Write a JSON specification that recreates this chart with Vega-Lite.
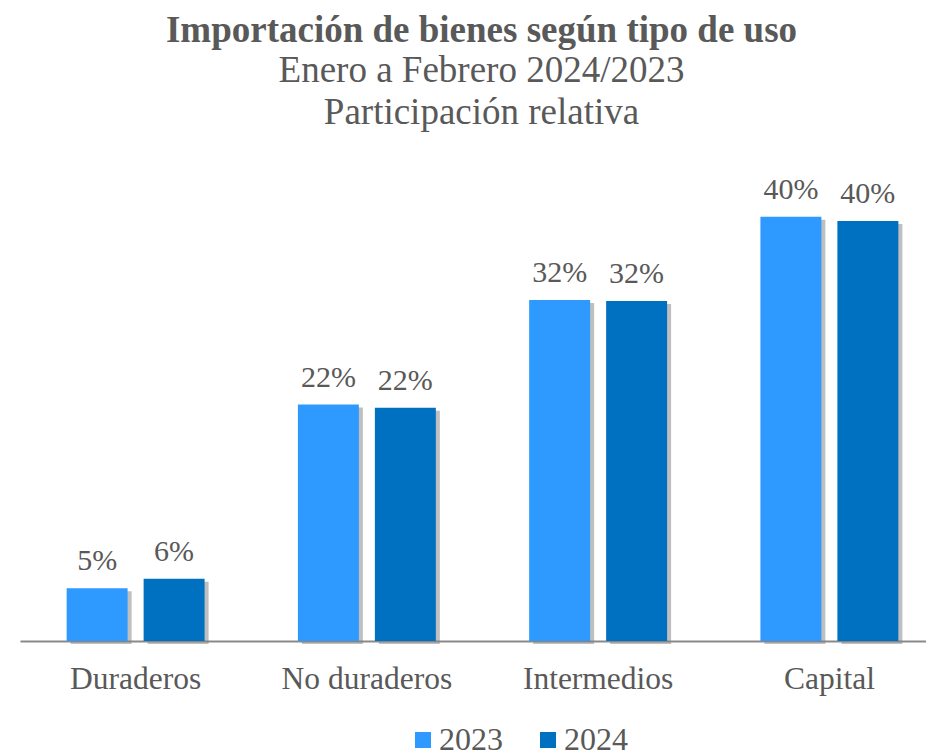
{
  "$schema": "https://vega.github.io/schema/vega-lite/v6.json",
  "autosize": {"type": "none"},
  "width": 925,
  "height": 475,
  "padding": {"left": 20, "top": 166, "right": 0, "bottom": 109},
  "background": "white",
  "title": {
    "text": "Importación de bienes según tipo de uso",
    "subtitle": ["Enero a Febrero 2024/2023", "Participación relativa"],
    "anchor": "middle",
    "frame": "group",
    "dx": -1,
    "offset": 34,
    "font": "Liberation Serif",
    "fontSize": 37,
    "fontWeight": "bold",
    "color": "#595959",
    "subtitleFont": "Liberation Serif",
    "subtitleFontSize": 37,
    "subtitleColor": "#595959",
    "subtitleLineHeight": 42,
    "subtitlePadding": 3
  },
  "data": {
    "values": [
      {"tipo": "Duraderos", "anio": "2023", "valor": 0.050},
      {"tipo": "Duraderos", "anio": "2024", "valor": 0.059},
      {"tipo": "No duraderos", "anio": "2023", "valor": 0.224},
      {"tipo": "No duraderos", "anio": "2024", "valor": 0.221},
      {"tipo": "Intermedios", "anio": "2023", "valor": 0.323},
      {"tipo": "Intermedios", "anio": "2024", "valor": 0.322},
      {"tipo": "Capital", "anio": "2023", "valor": 0.402},
      {"tipo": "Capital", "anio": "2024", "valor": 0.398}
    ]
  },
  "layer": [
    {
      "mark": {"type": "bar", "color": "#7f7f7f", "opacity": 0.5, "yOffset": 3},
      "encoding": {
        "x": {
          "field": "tipo",
          "type": "nominal",
          "sort": ["Duraderos", "No duraderos", "Intermedios", "Capital"],
          "scale": {"range": [4, 929], "paddingInner": 0.4035, "paddingOuter": 0.2017},
          "axis": null
        },
        "xOffset": {
          "field": "anio",
          "type": "nominal",
          "scale": {"paddingInner": 0.208, "paddingOuter": 0}
        },
        "y": {
          "field": "valor",
          "type": "quantitative",
          "scale": {"domain": [0, 0.45]},
          "axis": null
        }
      }
    },
    {
      "encoding": {
        "x": {
          "field": "tipo",
          "type": "nominal",
          "sort": ["Duraderos", "No duraderos", "Intermedios", "Capital"],
          "scale": {"paddingInner": 0.4035, "paddingOuter": 0.2017},
          "axis": {
            "title": null,
            "labelAngle": 0,
            "ticks": false,
            "domainColor": "#898989",
            "domainWidth": 2,
            "labelFont": "Liberation Serif",
            "labelFontSize": 31.5,
            "labelColor": "#595959",
            "labelPadding": 22,
            "grid": false
          }
        },
        "xOffset": {
          "field": "anio",
          "type": "nominal",
          "scale": {"paddingInner": 0.208, "paddingOuter": 0}
        },
        "y": {
          "field": "valor",
          "type": "quantitative",
          "scale": {"domain": [0, 0.45]},
          "axis": null
        }
      },
      "layer": [
        {
          "mark": {"type": "bar"},
          "encoding": {
            "color": {
              "field": "anio",
              "type": "nominal",
              "scale": {"domain": ["2023", "2024"], "range": ["#2E99FF", "#0070C0"]},
              "legend": {
                "title": null,
                "orient": "none",
                "direction": "horizontal",
                "legendX": 387,
                "legendY": 558,
                "symbolType": "square",
                "symbolSize": 256,
                "symbolStrokeWidth": 0,
                "labelFont": "Liberation Serif",
                "labelFontSize": 32,
                "labelColor": "#595959",
                "labelOffset": 0,
                "columnPadding": 29
              }
            }
          }
        },
        {
          "mark": {
            "type": "text",
            "font": "Liberation Serif",
            "fontSize": 30,
            "color": "#595959",
            "baseline": "alphabetic",
            "dy": -18
          },
          "encoding": {
            "text": {"field": "valor", "type": "quantitative", "format": ".0%"}
          }
        }
      ]
    }
  ],
  "resolve": {"scale": {"x": "independent"}},
  "config": {"view": {"stroke": null}}
}
